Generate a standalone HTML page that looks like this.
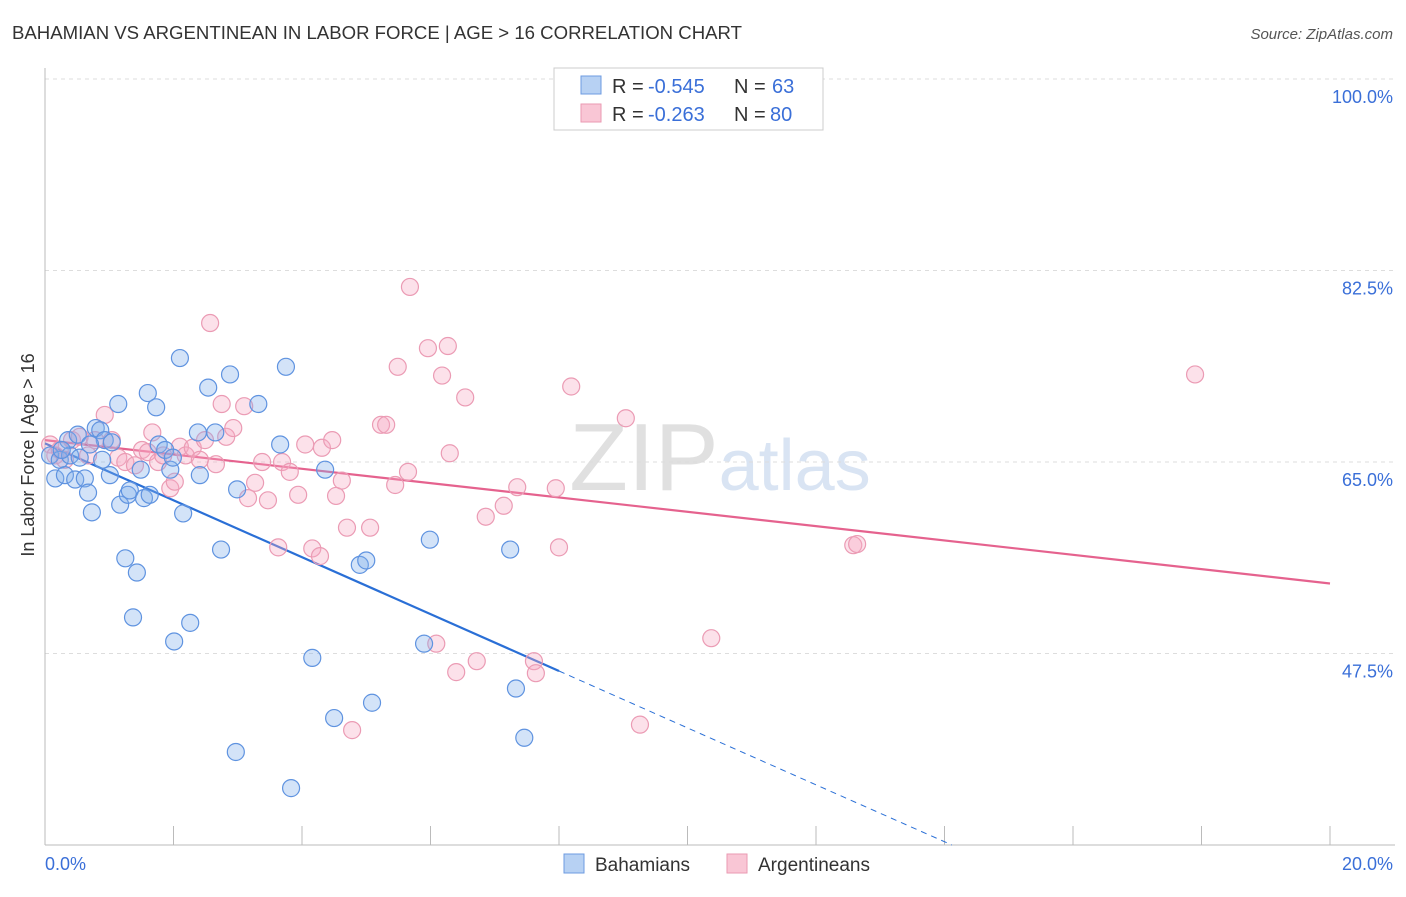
<!DOCTYPE html>
<html><head><meta charset="utf-8"><style>
body{margin:0;background:#fff;font-family:"Liberation Sans",sans-serif;}
svg text{font-family:"Liberation Sans",sans-serif;}
</style></head><body>
<svg id="chart" width="1406" height="892" xmlns="http://www.w3.org/2000/svg">
<text x="12" y="39" font-size="18.6" fill="#333">BAHAMIAN VS ARGENTINEAN IN LABOR FORCE | AGE &gt; 16 CORRELATION CHART</text>
<text x="1393" y="39" font-size="15" fill="#555" font-style="italic" text-anchor="end">Source: ZipAtlas.com</text>
<text x="720" y="490" font-size="96" fill="#e6e6e6" text-anchor="middle" font-family="Liberation Serif"><tspan fill="#e0e0e0">ZIP</tspan><tspan fill="#d9e4f3" font-family="Liberation Sans" font-size="72">atlas</tspan></text>
<text transform="translate(34,455) rotate(-90)" font-size="18" fill="#333" text-anchor="middle">In Labor Force | Age &gt; 16</text>
<g id="grid"></g><g id="axes"></g><g id="trend"></g><g id="pts"></g>
<g>
<rect x="554" y="68" width="269" height="62" fill="#fff" stroke="#ccc"/>
<rect x="581" y="76" width="20" height="18" fill="#b7d1f3" stroke="#6d9be0"/>
<rect x="581" y="104" width="20" height="18" fill="#f9c6d5" stroke="#ea9ab2"/>
<text x="612" y="93" font-size="20" fill="#333">R = </text><text x="648" y="93" font-size="20" fill="#3a6fd8">-0.545</text>
<text x="734" y="93" font-size="20" fill="#333">N = </text><text x="772" y="93" font-size="20" fill="#3a6fd8">63</text>
<text x="612" y="121" font-size="20" fill="#333">R = </text><text x="648" y="121" font-size="20" fill="#3a6fd8">-0.263</text>
<text x="734" y="121" font-size="20" fill="#333">N = </text><text x="770" y="121" font-size="20" fill="#3a6fd8">80</text>
</g>
<g>
<rect x="564" y="854" width="20" height="19" fill="#b7d1f3" stroke="#6d9be0"/>
<text x="595" y="871" font-size="19" fill="#333">Bahamians</text>
<rect x="727" y="854" width="20" height="19" fill="#f9c6d5" stroke="#ea9ab2"/>
<text x="758" y="871" font-size="19" fill="#333">Argentineans</text>
</g>
</svg>
<script>
const xTicks=[0,2,4,6,8,10,12,14,16,18,20];
const yTicks=[47.5,65,82.5,100];
const yTickLabels=["47.5%","65.0%","82.5%","100.0%"];
const blueX=[0.08,0.16,0.23,0.31,0.36,0.39,0.47,0.51,0.54,0.62,0.67,0.73,0.79,0.86,0.89,0.93,1.01,1.04,1.14,1.17,1.25,1.29,1.32,1.37,1.43,1.49,1.54,1.60,1.63,1.73,1.77,1.87,1.95,1.99,2.01,2.10,2.15,2.26,2.38,2.41,2.54,2.65,2.74,2.88,2.97,2.99,3.32,3.66,3.75,3.83,4.16,4.36,4.50,4.90,5.00,5.09,5.90,5.99,7.24,7.33,7.46,0.26,0.70];
const blueY=[65.6,63.5,65.2,63.8,67.0,65.6,63.4,67.5,65.4,63.5,62.2,60.4,68.1,67.9,65.2,67.0,63.8,66.8,70.3,61.1,56.2,62.0,62.4,50.8,54.9,64.3,61.7,71.3,62.0,70.0,66.6,66.1,64.3,65.4,48.6,74.5,60.3,50.3,67.7,63.8,71.8,67.7,57.0,73.0,38.5,62.5,70.3,66.6,73.7,35.2,47.1,64.3,41.6,55.6,56.0,43.0,48.4,57.9,57.0,44.3,39.8,66.1,66.6];
const pinkX=[0.08,0.16,0.23,0.31,0.42,0.54,0.67,0.78,0.93,1.04,1.14,1.25,1.40,1.51,1.60,1.67,1.76,1.84,1.95,2.02,2.10,2.19,2.30,2.41,2.49,2.57,2.66,2.75,2.82,2.93,3.10,3.16,3.27,3.38,3.47,3.63,3.69,3.81,3.94,4.05,4.16,4.28,4.31,4.47,4.53,4.62,4.70,4.78,5.06,5.23,5.31,5.45,5.49,5.65,5.68,5.96,6.09,6.18,6.27,6.30,6.40,6.54,6.72,6.86,7.14,7.35,7.61,7.64,7.95,8.00,8.19,9.04,9.26,10.37,12.58,12.64,17.90];
const pinkY=[66.6,65.6,66.1,65.2,67.0,67.3,65.6,67.0,69.3,67.0,65.4,65.0,64.7,66.1,65.9,67.7,65.0,65.6,62.6,63.2,66.4,65.6,66.3,65.2,67.0,77.7,64.8,70.3,67.3,68.1,70.1,61.7,63.1,65.0,61.5,57.2,65.0,64.1,62.0,66.6,57.1,56.4,66.3,67.0,61.9,63.3,59.0,40.5,59.0,68.4,68.4,62.9,73.7,64.1,81.0,75.4,48.4,72.9,75.6,65.8,45.8,70.9,46.8,60.0,61.0,62.7,46.8,45.7,62.6,57.2,71.9,69.0,41.0,48.9,57.4,57.5,73.0];
const blueTrend=[66.7,45.9]; // y at x=0 and x=8
const pinkTrend=[67.0,53.9]; // y at x=0 and x=20
const NS="http://www.w3.org/2000/svg";
const sx=v=>45+v*64.25, sy=v=>79+(100-v)*10.943;
function mk(tag,attrs,parent){const e=document.createElementNS(NS,tag);for(const k in attrs)e.setAttribute(k,attrs[k]);parent.appendChild(e);return e;}
const grid=document.getElementById('grid'),axes=document.getElementById('axes'),trend=document.getElementById('trend'),pts=document.getElementById('pts');
yTicks.forEach((t,i)=>{
 const l=mk('line',{x1:45,x2:1395,y1:sy(t),y2:sy(t),stroke:'#ddd','stroke-dasharray':'4,4'},grid);
 
 
 const tx=mk('text',{x:1393,y:sy(t)+24,'font-size':18,fill:'#3a6fd8','text-anchor':'end'},axes);
 tx.textContent=yTickLabels[i];
 
 
});
const ax=mk('line',{x1:45,x2:45,y1:68,y2:845,stroke:'#bbb'},axes);


const bx=mk('line',{x1:45,x2:1395,y1:845,y2:845,stroke:'#bbb'},axes);


xTicks.forEach(t=>{
 const l=mk('line',{x1:sx(t),x2:sx(t),y1:826,y2:845,stroke:'#bbb'},axes);
 
 
});
[[0,'0.0%','start',45],[20,'20.0%','end',1393]].forEach(a=>{
 const t=mk('text',{x:a[3],y:870,'font-size':18,fill:'#3a6fd8','text-anchor':a[2]},axes);
 t.textContent=a[1];
 
 
});
function dot(x,y,fill,stroke,name){
 const c=mk('circle',{cx:sx(x),cy:sy(y),r:8.5,fill:fill,stroke:stroke,'stroke-width':1.2},pts);
 
 
}
pinkX.forEach((x,i)=>dot(x,pinkY[i],'rgba(246,170,195,0.35)','#eb9bb4','argentinean-point'));
blueX.forEach((x,i)=>dot(x,blueY[i],'rgba(130,175,235,0.35)','#5f93e0','bahamian-point'));
const bs=(blueTrend[1]-blueTrend[0])/8;
const b1=mk('line',{x1:sx(0),y1:sy(blueTrend[0]),x2:sx(8),y2:sy(blueTrend[1]),stroke:'#2a6fd6','stroke-width':2.2},trend);


const yBottom=100-(845-79)/10.943;
const xEnd=(yBottom-blueTrend[0])/bs;
const b2=mk('line',{x1:sx(8),y1:sy(blueTrend[1]),x2:sx(xEnd),y2:sy(yBottom),stroke:'#2a6fd6','stroke-width':1,'stroke-dasharray':'6,5'},trend);


const p1=mk('line',{x1:sx(0),y1:sy(pinkTrend[0]),x2:sx(20),y2:sy(pinkTrend[1]),stroke:'#e5628e','stroke-width':2.2},trend);


</script>
</body></html>
